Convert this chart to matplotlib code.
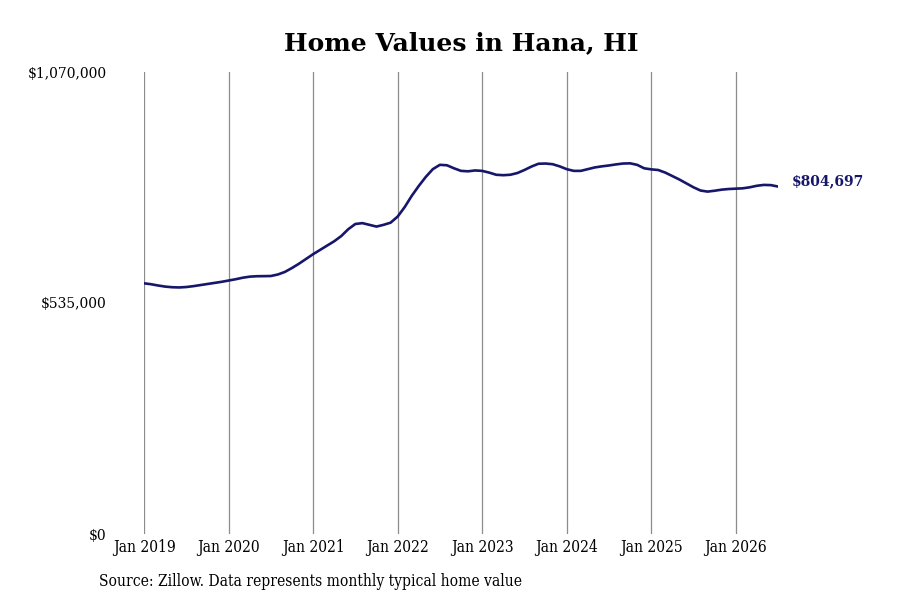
import matplotlib
matplotlib.use("Agg")
import matplotlib.pyplot as plt
import matplotlib.ticker as mticker
import numpy as np

# monthly typical home value, Jan 2019 .. Jul 2026
values = [
    580600, 578500, 575500, 573000, 571500, 571000, 572000, 574000, 576500, 579000, 581500, 584000,  # 2019
    587000, 590000, 593500, 596000, 597000, 597200, 597500, 601000, 607000, 616000, 626000, 637000,  # 2020
    648000, 658000, 668000, 678000, 690000, 706000, 718000, 720000, 716000, 712000, 716000, 721000,  # 2021
    735000, 757000, 783000, 806000, 827000, 845000, 855000, 854000, 847000, 841000, 840000, 842000,  # 2022
    841000, 837000, 832000, 831000, 832000, 836000, 843000, 851000, 857500, 858000, 856500, 851500,  # 2023
    845000, 841000, 841000, 845000, 849000, 851500, 853500, 856000, 858000, 858500, 855000, 847000,  # 2024
    844500, 843000, 837000, 829000, 821000, 812000, 803000, 795500, 793000, 795000, 797500, 799000,  # 2025
    799800, 800600, 803000, 806500, 808500, 808000, 804697,                                          # 2026
]
years = list(range(2019, 2027))
tick_labels = [f"Jan {y}" for y in years]
y_ticks = [0, 535000, 1070000]
title = "Home Values in Hana, HI"
source = "Source: Zillow. Data represents monthly typical home value"

months = np.arange(len(values))
line_col = "#16166b"
serif = ["DejaVu Serif", "Liberation Serif"]

fig = plt.figure(figsize=(9, 6), dpi=100)
ax = fig.add_axes([144/900, 1-534/600, (778-144)/900, (534-72)/600])
ax.plot(months, values, color=line_col, lw=1.9, solid_capstyle="round")
ax.set_xlim(0, len(values)-1)
ax.set_ylim(0, 1070000)

ax.set_xticks([12*i for i in range(len(years))])
ax.set_xticklabels(tick_labels, family=serif, fontstretch="condensed", fontsize=11.2)
ax.set_yticks(y_ticks)
ax.yaxis.set_major_formatter(mticker.FuncFormatter(lambda v, p: f"${v:,.0f}"))
for lab in ax.get_yticklabels():
    lab.set_family(serif); lab.set_fontsize(10)
ax.tick_params(axis="y", length=0, pad=27)
ax.tick_params(axis="x", length=0, pad=3.5)
ax.grid(axis="x", color="#8c8c8c", lw=0.9)
ax.grid(axis="y", visible=False)
for s in ax.spines.values():
    s.set_visible(False)

ax.annotate(f"${values[-1]:,.0f}", (months[-1], values[-1]), xytext=(10, 4),
            textcoords="offset points", va="center", ha="left",
            fontsize=10, fontweight="bold", color=line_col, family=serif)

fig.text(461/900, 1-43/600, title, ha="center", va="center", fontsize=18,
         fontweight="bold", family=serif)
fig.text(99/900, 1-581/600, source, ha="left", va="center", fontsize=11.2,
         family=serif, fontstretch="condensed")

fig.savefig("out.png", dpi=100)
